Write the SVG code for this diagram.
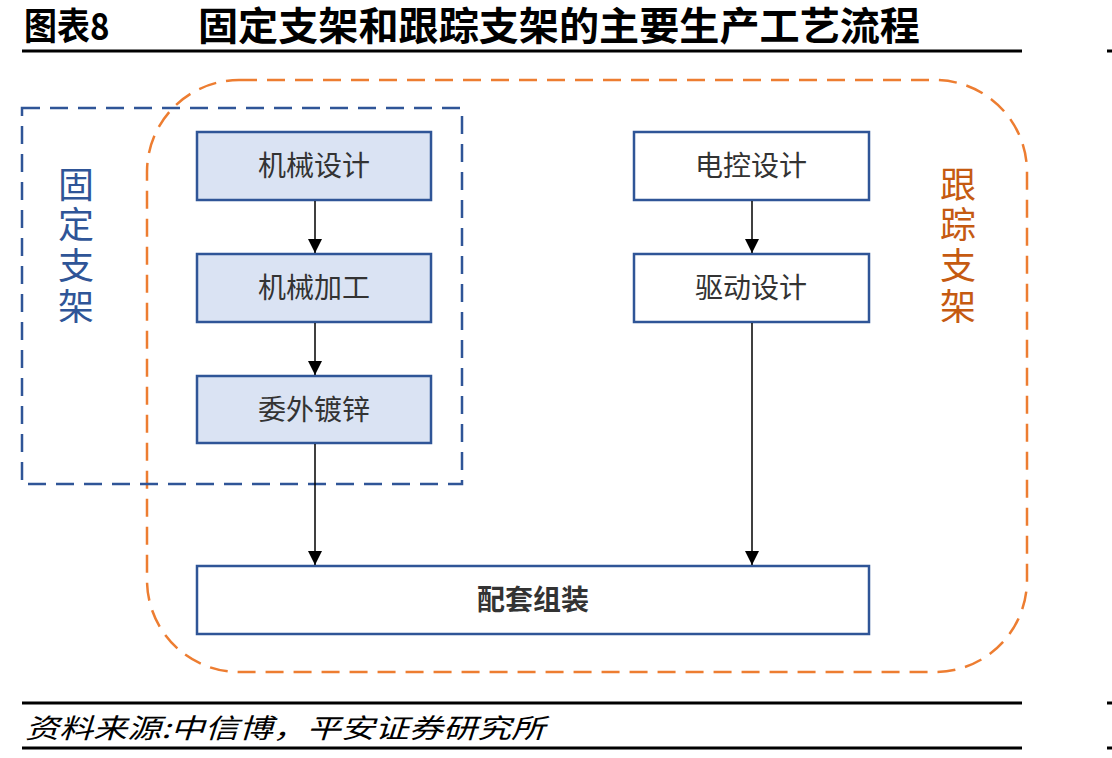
<svg xmlns="http://www.w3.org/2000/svg" width="1112" height="758" viewBox="0 0 1112 758">
<defs>
<marker id="ah" viewBox="0 0 10 10" refX="10" refY="5" markerWidth="14" markerHeight="14" markerUnits="userSpaceOnUse" orient="auto"><path d="M0,0 L10,5 L0,10 z" fill="#000"/></marker>
<style>
.t{font-family:"Noto Sans CJK SC","Liberation Sans",sans-serif;}
.box{stroke:#2F5597;stroke-width:2.5;}
.f{fill:#DAE3F3;}
.w{fill:#fff;}
.lbl{font-size:28px;fill:#333;text-anchor:middle;}
.conn{stroke:#000;stroke-width:1.5;fill:none;marker-end:url(#ah);}
.rule{stroke:#000;stroke-width:3;}
</style>
</defs>
<rect width="1112" height="758" fill="#fff"/>
<g transform="translate(0,40) scale(1,1.12)">
<text class="t" x="24" y="0" font-size="33" font-weight="bold" fill="#000">图表8</text>
<text class="t" x="198" y="0" font-size="35" font-weight="bold" fill="#000" textLength="722" lengthAdjust="spacingAndGlyphs">固定支架和跟踪支架的主要生产工艺流程</text>
</g>
<line class="rule" x1="22" y1="51" x2="1022" y2="51"/>
<line class="rule" x1="1107" y1="51" x2="1112" y2="51"/>
<line class="rule" x1="22" y1="703" x2="1022" y2="703"/>
<line class="rule" x1="1107" y1="703" x2="1112" y2="703"/>
<line class="rule" x1="22" y1="748" x2="1022" y2="748"/>
<line class="rule" x1="1107" y1="748" x2="1112" y2="748"/>
<text class="t" x="25" y="738" font-size="27" font-style="italic" fill="#000" textLength="520" lengthAdjust="spacingAndGlyphs">资料来源:中信博，平安证券研究所</text>
<g id="group-tracking">
<rect x="147" y="80" width="880" height="592" rx="92" ry="92" fill="none" stroke="#ED7D31" stroke-width="2.5" stroke-dasharray="18,10"/>
<text class="t" font-size="36" fill="#C55A11" text-anchor="middle"><tspan x="958" y="198">跟</tspan><tspan x="958" y="238">踪</tspan><tspan x="958" y="279">支</tspan><tspan x="958" y="320">架</tspan></text>
</g>
<g id="group-fixed">
<rect x="22" y="108" width="440" height="376" fill="none" stroke="#2F5597" stroke-width="2.5" stroke-dasharray="18,10"/>
<text class="t" font-size="36" fill="#2F5597" text-anchor="middle"><tspan x="76" y="198">固</tspan><tspan x="76" y="238">定</tspan><tspan x="76" y="279">支</tspan><tspan x="76" y="320">架</tspan></text>
</g>
<g id="n1"><rect class="box f" x="197" y="132" width="234" height="68"/><text class="t lbl" x="314" y="176">机械设计</text></g>
<g id="n2"><rect class="box f" x="197" y="254" width="234" height="68"/><text class="t lbl" x="314" y="298">机械加工</text></g>
<g id="n3"><rect class="box f" x="197" y="376" width="234" height="67"/><text class="t lbl" x="314" y="420">委外镀锌</text></g>
<g id="n4"><rect class="box w" x="634" y="132" width="235" height="68"/><text class="t lbl" x="751" y="176">电控设计</text></g>
<g id="n5"><rect class="box w" x="634" y="254" width="235" height="68"/><text class="t lbl" x="751" y="298">驱动设计</text></g>
<g id="n6"><rect class="box w" x="197" y="566" width="672" height="68"/><text class="t lbl" x="533" y="610" font-weight="bold" fill="#000">配套组装</text></g>
<g id="connectors">
<line class="conn" x1="315" y1="201" x2="315" y2="253"/>
<line class="conn" x1="315" y1="323" x2="315" y2="375"/>
<line class="conn" x1="315" y1="444" x2="315" y2="565"/>
<line class="conn" x1="752" y1="201" x2="752" y2="253"/>
<line class="conn" x1="752" y1="323" x2="752" y2="565"/>
</g>
</svg>
